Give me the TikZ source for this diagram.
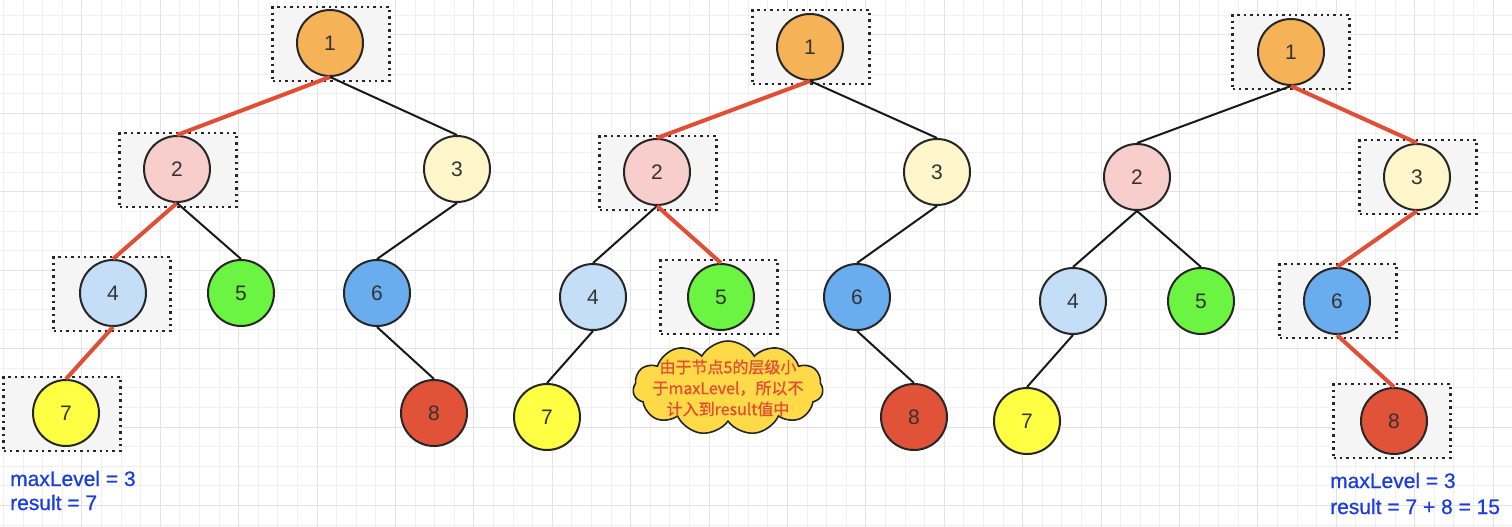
\documentclass[tikz,border=0pt]{standalone}
\usepackage{fontspec}
\setmainfont{Liberation Sans}
\newfontfamily\cjk[FakeBold=0.9]{Noto Sans CJK SC}
\newfontfamily\notefont[FakeBold=0.7]{Liberation Sans}
\usepackage{tikz}
\usetikzlibrary{shapes.symbols}
\definecolor{nOne}{HTML}{F6B256}
\definecolor{nTwo}{HTML}{F8CECC}
\definecolor{nThree}{HTML}{FFF6CC}
\definecolor{nFour}{HTML}{C4DEF8}
\definecolor{nFive}{HTML}{6BF542}
\definecolor{nSix}{HTML}{6AADEE}
\definecolor{nSeven}{HTML}{FFFF44}
\definecolor{nEight}{HTML}{E05338}
\definecolor{hot}{HTML}{E24D35}
\definecolor{note}{HTML}{1A3DE3}
\definecolor{cloudfill}{HTML}{FFDA48}
\tikzstyle{tnode}=[circle, draw=black!85, line width=2pt, minimum size=66pt, inner sep=0pt, text=black!80, font=\fontsize{21}{21}\selectfont]
\tikzstyle{sel}=[rectangle, draw=black!85, fill=black!4, line width=2.4pt, dash pattern=on 2.4pt off 4pt, minimum width=117pt, minimum height=74pt]
\tikzstyle{tedge}=[draw=black!90, line width=2pt]
\tikzstyle{hedge}=[draw=hot, line width=4pt]
\tikzstyle{info}=[text=note, inner sep=0pt, anchor=base west, font=\notefont\fontsize{21}{24}\selectfont]
\tikzstyle{gminor}=[draw=black!6, line width=1pt]
\tikzstyle{gmajor}=[draw=black!11, line width=1pt]

\begin{document}
\begin{tikzpicture}[x=1pt, y=-1pt]
                    \useasboundingbox (0,0) rectangle (1512,527);
                    \fill[white] (0,0) rectangle (1512,527);
                    % grid paper
                    \foreach \i in {0,...,77} \draw[gminor] ({3.4+19.6*\i},0) -- ({3.4+19.6*\i},527);
                    \foreach \j in {0,...,26} \draw[gminor] (0,{15.4+19.6*\j}) -- (1512,{15.4+19.6*\j});
                    \foreach \i in {0,...,19} \draw[gmajor] ({81.8+78.4*\i},0) -- ({81.8+78.4*\i},527);
                    \foreach \j in {0,...,6} \draw[gmajor] (0,{35+78.4*\j}) -- (1512,{35+78.4*\j});

                    % first tree
                    \node[sel] (pa1) at (331,44) {};
                    \node[sel] (pa2) at (178,170) {};
                    \node[sel] (pa4) at (112,294) {};
                    \node[sel] (pa7) at (62,414) {};
                    \node[tnode, fill=nOne]   (a1) at (330, 43) {1};
                    \node[tnode, fill=nTwo]   (a2) at (177,169) {2};
                    \node[tnode, fill=nThree] (a3) at (457,169) {3};
                    \node[tnode, fill=nFour]  (a4) at (113,293) {4};
                    \node[tnode, fill=nFive]  (a5) at (241,293) {5};
                    \node[tnode, fill=nSix]   (a6) at (377,293) {6};
                    \node[tnode, fill=nSeven] (a7) at (66, 413) {7};
                    \node[tnode, fill=nEight] (a8) at (434,413) {8};
                    \draw[hedge] (a1.south)--(a2.north);
                    \draw[tedge] (a1.south)--(a3.north);
                    \draw[hedge] (a2.south)--(a4.north);
                    \draw[tedge] (a2.south)--(a5.north);
                    \draw[tedge] (a3.south)--(a6.north);
                    \draw[hedge] (a4.south)--(a7.north);
                    \draw[tedge] (a6.south)--(a8.north);
                    \node[info] (la) at (10,486) {maxLevel = 3};
                    \node[info] (ra) at (10,510) {result = 7};

                    % second tree
                    \node[sel] (pb1) at (811,47) {};
                    \node[sel] (pb2) at (658,173) {};
                    \node[sel] (pb5) at (719,297) {};
                    \node[tnode, fill=nOne]   (b1) at (810, 47) {1};
                    \node[tnode, fill=nTwo]   (b2) at (657,172) {2};
                    \node[tnode, fill=nThree] (b3) at (937,172) {3};
                    \node[tnode, fill=nFour]  (b4) at (593,297) {4};
                    \node[tnode, fill=nFive]  (b5) at (721,297) {5};
                    \node[tnode, fill=nSix]   (b6) at (857,297) {6};
                    \node[tnode, fill=nSeven] (b7) at (547,417) {7};
                    \node[tnode, fill=nEight] (b8) at (914,417) {8};
                    \draw[hedge] (b1.south)--(b2.north);
                    \draw[tedge] (b1.south)--(b3.north);
                    \draw[tedge] (b2.south)--(b4.north);
                    \draw[hedge] (b2.south)--(b5.north);
                    \draw[tedge] (b3.south)--(b6.north);
                    \draw[tedge] (b4.south)--(b7.north);
                    \draw[tedge] (b6.south)--(b8.north);
                    \node[cloud, cloud puffs=11, cloud puff arc=120, draw=black!85, line width=1.6pt, fill=cloudfill, minimum width=190pt, minimum height=94pt] (cl) at (728,388) {};
                    \node[align=center, text=hot, inner sep=0pt, font=\cjk\fontsize{16}{21}\selectfont] (ct) at (cl) {由于节点5的层级小\\于maxLevel，所以不\\计入到result值中};

                    % third tree
                    \node[sel] (pc1) at (1291,52) {};
                    \node[sel] (pc3) at (1418,177) {};
                    \node[sel] (pc6) at (1338,301) {};
                    \node[sel] (pc8) at (1392,421) {};
                    \node[tnode, fill=nOne]   (c1) at (1291, 52) {1};
                    \node[tnode, fill=nTwo]   (c2) at (1137,177) {2};
                    \node[tnode, fill=nThree] (c3) at (1417,177) {3};
                    \node[tnode, fill=nFour]  (c4) at (1073,301) {4};
                    \node[tnode, fill=nFive]  (c5) at (1201,301) {5};
                    \node[tnode, fill=nSix]   (c6) at (1337,301) {6};
                    \node[tnode, fill=nSeven] (c7) at (1027,421) {7};
                    \node[tnode, fill=nEight] (c8) at (1394,421) {8};
                    \draw[tedge] (c1.south)--(c2.north);
                    \draw[hedge] (c1.south)--(c3.north);
                    \draw[tedge] (c2.south)--(c4.north);
                    \draw[tedge] (c2.south)--(c5.north);
                    \draw[hedge] (c3.south)--(c6.north);
                    \draw[tedge] (c4.south)--(c7.north);
                    \draw[hedge] (c6.south)--(c8.north);
                    \node[info] (lc) at (1330,488) {maxLevel = 3};
                    \node[info] (rc) at (1330,514) {result = 7 + 8 = 15};
                \end{tikzpicture}
\end{document}
